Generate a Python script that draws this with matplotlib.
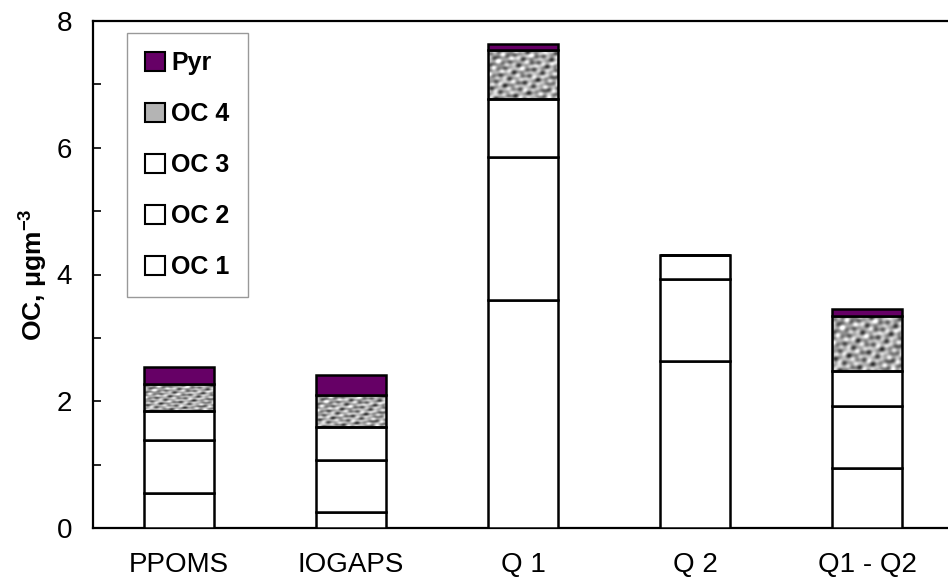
import matplotlib
matplotlib.use("Agg")
import matplotlib.pyplot as plt
from matplotlib.patches import Patch, Rectangle
import numpy as np

categories = ["PPOMS", "IOGAPS", "Q 1", "Q 2", "Q1 - Q2"]
oc1 = [0.56, 0.26, 3.59, 2.64, 0.94]
oc2 = [0.83, 0.81, 2.27, 1.29, 0.99]
oc3 = [0.46, 0.52, 0.91, 0.38, 0.55]
oc4 = [0.42, 0.51, 0.77, 0.00, 0.87]
pyr = [0.27, 0.31, 0.10, 0.00, 0.10]
series = [("OC 1", oc1), ("OC 2", oc2), ("OC 3", oc3), ("OC 4", oc4), ("Pyr", pyr)]
yticks = [0, 2, 4, 6, 8]

plt.rcParams['font.family'] = ['Liberation Sans', 'DejaVu Sans']
plt.rcParams['mathtext.fontset'] = 'custom'
plt.rcParams['mathtext.rm'] = 'Liberation Sans:bold'
plt.rcParams['mathtext.it'] = 'Liberation Sans:bold'
plt.rcParams['mathtext.default'] = 'rm'

fig = plt.figure(figsize=(9.48, 5.82), dpi=100)
ax = fig.add_axes([93 / 948, 1 - 528 / 582, 860 / 948, 507 / 582])

# deterministic mottled gray texture for the OC 4 fill
gx, gy = np.meshgrid(np.linspace(0, 1, 200), np.linspace(0, 1, 400))
tex = (np.sin(31 * gx + 13 * gy) + np.sin(19 * gx - 37 * gy + 1.3)
       + np.sin(47 * gx + 23 * gy + 2.1) + np.sin(13 * gx + 53 * gy + 0.7)
       + 0.7 * np.sin(61 * gx - 17 * gy + 2.9) + 0.6 * np.sin(7 * gx + 29 * gy + 0.3))

x = np.arange(len(categories))
width = 0.407
styles = {
    "OC 1": dict(facecolor="white"),
    "OC 2": dict(facecolor="white"),
    "OC 3": dict(facecolor="white"),
    "OC 4": dict(facecolor="#b4b4b4"),
    "Pyr": dict(facecolor="#660066"),
}
bottom = np.zeros(len(categories))
for name, vals in series:
    vals = np.array(vals)
    bars = ax.bar(x, vals, width, bottom=bottom, edgecolor="black",
                  linewidth=1.8, zorder=3, **styles[name])
    if name == "OC 4":
        for b in bars:
            if b.get_height() <= 0:
                continue
            b.set_facecolor("none")
            x0, y0 = b.get_x(), b.get_y()
            im = ax.imshow(tex, cmap="gray", vmin=-6.5, vmax=3.6,
                           extent=(x0, x0 + b.get_width(), y0, y0 + b.get_height()),
                           aspect="auto", interpolation="bilinear", zorder=2)
            clip = Rectangle((x0, y0), b.get_width(), b.get_height(),
                             transform=ax.transData)
            im.set_clip_path(clip)
    bottom += vals

ax.set_xlim(-0.5, 4.5)
ax.set_ylim(0, 8)
ax.set_yticks(yticks)
ax.set_yticks([1, 3, 5, 7], minor=True)
ax.set_xticks(x)
ax.set_xticklabels(categories, fontsize=20)
ax.tick_params(axis='y', which='both', direction='in', length=6, width=1.2,
               labelsize=20, pad=15)
ax.tick_params(axis='x', length=0, pad=17)
for s in ax.spines.values():
    s.set_linewidth(1.6)
ax.set_ylabel(r"OC, $\mu$gm$^{-3}$", fontsize=19, fontweight='bold', labelpad=5)

handles = []
for name, vals in reversed(series):
    handles.append(Patch(edgecolor="black", linewidth=1.5, label=name, **styles[name]))
leg = ax.legend(handles=handles, loc='upper left',
                bbox_to_anchor=(127 / 948, 1 - 33 / 582), bbox_transform=fig.transFigure,
                prop={'weight': 'bold', 'size': 18}, frameon=True, fancybox=False,
                handlelength=0.8, handleheight=0.8, handletextpad=0.25,
                labelspacing=1.08, borderpad=0.72, borderaxespad=0)
leg.get_frame().set_edgecolor("#808080")
leg.get_frame().set_linewidth(1.0)
leg.set_zorder(5)

fig.savefig("out.png", dpi=100)
